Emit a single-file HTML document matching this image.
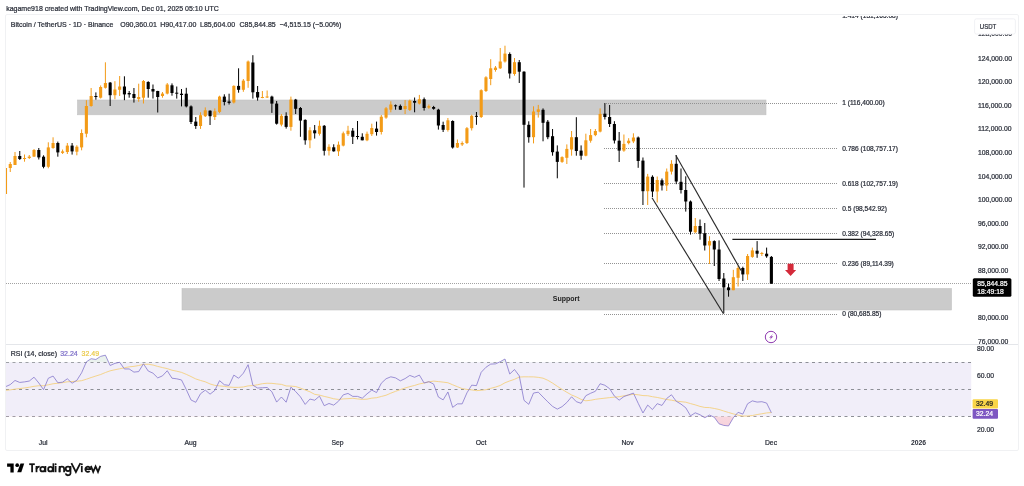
<!DOCTYPE html>
<html><head><meta charset="utf-8"><style>
html,body{margin:0;padding:0;background:#fff;width:1024px;height:486px;overflow:hidden}
svg{display:block;font-family:"Liberation Sans", sans-serif;will-change:transform}
</style></head><body>
<svg width="1024" height="486" viewBox="0 0 1024 486">
<text x="6.2" y="11.3" font-size="7" fill="#2a2e39" stroke="#2a2e39" stroke-width="0.22">kagame918 created with TradingView.com, Dec 01, 2025 05:10 UTC</text>
<rect x="5.5" y="14.5" width="1013" height="436" rx="1.5" fill="#fff" stroke="#f0f1f3" stroke-width="1"/>
<text x="10.8" y="27" font-size="7" fill="#2a2e39" stroke="#2a2e39" stroke-width="0.22">Bitcoin / TetherUS · 1D · Binance</text>
<text x="120.2" y="27" font-size="7" fill="#2a2e39" stroke="#2a2e39" stroke-width="0.22">O90,360.01</text>
<text x="160.2" y="27" font-size="7" fill="#2a2e39" stroke="#2a2e39" stroke-width="0.22">H90,417.00</text>
<text x="200" y="27" font-size="7" fill="#2a2e39" stroke="#2a2e39" stroke-width="0.22">L85,604.00</text>
<text x="239.5" y="27" font-size="7" fill="#2a2e39" stroke="#2a2e39" stroke-width="0.22">C85,844.85</text>
<text x="279.5" y="27" font-size="7" fill="#2a2e39" stroke="#2a2e39" stroke-width="0.22">−4,515.15 (−5.00%)</text>
<defs><clipPath id="cm"><rect x="6" y="16" width="965.5" height="328"/></clipPath><clipPath id="cr"><rect x="6" y="345" width="965.5" height="89"/></clipPath></defs>
<g clip-path="url(#cm)"><rect x="77.5" y="100" width="688.5" height="14.8" fill="#cbcbcb" stroke="#c2c2c2" stroke-width="0.6"/><rect x="182" y="288.5" width="769.5" height="21.5" fill="#cbcbcb" stroke="#c2c2c2" stroke-width="0.6"/><text x="566.2" y="301.1" font-size="7" font-weight="bold" fill="#222" text-anchor="middle">Support</text><text x="842.2" y="18.33" font-size="6.6" fill="#2a2e39" stroke="#2a2e39" stroke-width="0.22">1.414 (131,165.08)</text><line x1="604" y1="103.5" x2="837" y2="103.5" stroke="#929292" stroke-width="1" stroke-dasharray="1 1"/><text x="842.2" y="105.44" font-size="6.6" fill="#2a2e39" stroke="#2a2e39" stroke-width="0.22">1 (116,400.00)</text><line x1="604" y1="148.5" x2="837" y2="148.5" stroke="#929292" stroke-width="1" stroke-dasharray="1 1"/><text x="842.2" y="150.53" font-size="6.6" fill="#2a2e39" stroke="#2a2e39" stroke-width="0.22">0.786 (108,757.17)</text><line x1="604" y1="183.5" x2="837" y2="183.5" stroke="#929292" stroke-width="1" stroke-dasharray="1 1"/><text x="842.2" y="185.93" font-size="6.6" fill="#2a2e39" stroke="#2a2e39" stroke-width="0.22">0.618 (102,757.19)</text><line x1="604" y1="208.5" x2="837" y2="208.5" stroke="#929292" stroke-width="1" stroke-dasharray="1 1"/><text x="842.2" y="210.80" font-size="6.6" fill="#2a2e39" stroke="#2a2e39" stroke-width="0.22">0.5 (98,542.92)</text><line x1="604" y1="233.5" x2="837" y2="233.5" stroke="#929292" stroke-width="1" stroke-dasharray="1 1"/><text x="842.2" y="235.66" font-size="6.6" fill="#2a2e39" stroke="#2a2e39" stroke-width="0.22">0.382 (94,328.65)</text><line x1="604" y1="263.5" x2="837" y2="263.5" stroke="#929292" stroke-width="1" stroke-dasharray="1 1"/><text x="842.2" y="266.43" font-size="6.6" fill="#2a2e39" stroke="#2a2e39" stroke-width="0.22">0.236 (89,114.39)</text><line x1="604" y1="314.5" x2="837" y2="314.5" stroke="#929292" stroke-width="1" stroke-dasharray="1 1"/><text x="842.2" y="316.15" font-size="6.6" fill="#2a2e39" stroke="#2a2e39" stroke-width="0.22">0 (80,685.85)</text><line x1="6" y1="283.5" x2="971" y2="283.5" stroke="#a2a2a2" stroke-width="1" stroke-dasharray="1 1"/><line x1="5.50" y1="166.00" x2="5.50" y2="194.00" stroke="#f39b17" stroke-width="1"/><rect x="3.95" y="168.00" width="3.1" height="26.00" fill="#f39b17"/><line x1="10.26" y1="162.00" x2="10.26" y2="172.00" stroke="#f39b17" stroke-width="1"/><rect x="8.71" y="164.00" width="3.1" height="4.00" fill="#f39b17"/><line x1="15.01" y1="152.00" x2="15.01" y2="165.00" stroke="#f39b17" stroke-width="1"/><rect x="13.46" y="156.00" width="3.1" height="9.00" fill="#f39b17"/><line x1="19.77" y1="151.00" x2="19.77" y2="160.00" stroke="#000000" stroke-width="1"/><rect x="18.22" y="156.00" width="3.1" height="3.00" fill="#000000"/><line x1="24.53" y1="154.50" x2="24.53" y2="161.70" stroke="#f39b17" stroke-width="1"/><rect x="22.98" y="158.00" width="3.1" height="1.00" fill="#f39b17"/><line x1="29.28" y1="155.00" x2="29.28" y2="159.00" stroke="#f39b17" stroke-width="1"/><rect x="27.73" y="156.60" width="3.1" height="1.40" fill="#f39b17"/><line x1="34.04" y1="149.00" x2="34.04" y2="157.00" stroke="#f39b17" stroke-width="1"/><rect x="32.49" y="150.00" width="3.1" height="6.60" fill="#f39b17"/><line x1="38.80" y1="148.00" x2="38.80" y2="159.50" stroke="#000000" stroke-width="1"/><rect x="37.25" y="150.00" width="3.1" height="7.40" fill="#000000"/><line x1="43.56" y1="155.30" x2="43.56" y2="168.30" stroke="#000000" stroke-width="1"/><rect x="42.01" y="156.70" width="3.1" height="10.10" fill="#000000"/><line x1="48.31" y1="142.30" x2="48.31" y2="168.30" stroke="#f39b17" stroke-width="1"/><rect x="46.76" y="147.40" width="3.1" height="19.40" fill="#f39b17"/><line x1="53.07" y1="137.30" x2="53.07" y2="148.80" stroke="#f39b17" stroke-width="1"/><rect x="51.52" y="143.00" width="3.1" height="5.00" fill="#f39b17"/><line x1="57.83" y1="141.60" x2="57.83" y2="156.70" stroke="#000000" stroke-width="1"/><rect x="56.28" y="143.00" width="3.1" height="9.40" fill="#000000"/><line x1="62.58" y1="149.50" x2="62.58" y2="154.00" stroke="#f39b17" stroke-width="1"/><rect x="61.03" y="151.40" width="3.1" height="1.50" fill="#f39b17"/><line x1="67.34" y1="143.00" x2="67.34" y2="154.00" stroke="#f39b17" stroke-width="1"/><rect x="65.79" y="145.60" width="3.1" height="6.40" fill="#f39b17"/><line x1="72.10" y1="143.00" x2="72.10" y2="154.60" stroke="#000000" stroke-width="1"/><rect x="70.55" y="145.60" width="3.1" height="5.80" fill="#000000"/><line x1="76.85" y1="145.20" x2="76.85" y2="155.30" stroke="#f39b17" stroke-width="1"/><rect x="75.30" y="146.70" width="3.1" height="5.00" fill="#f39b17"/><line x1="81.61" y1="129.40" x2="81.61" y2="150.30" stroke="#f39b17" stroke-width="1"/><rect x="80.06" y="133.00" width="3.1" height="14.40" fill="#f39b17"/><line x1="86.37" y1="100.20" x2="86.37" y2="137.30" stroke="#f39b17" stroke-width="1"/><rect x="84.82" y="106.00" width="3.1" height="27.70" fill="#f39b17"/><line x1="91.13" y1="88.00" x2="91.13" y2="106.70" stroke="#f39b17" stroke-width="1"/><rect x="89.58" y="96.00" width="3.1" height="10.00" fill="#f39b17"/><line x1="95.88" y1="92.40" x2="95.88" y2="99.70" stroke="#000000" stroke-width="1"/><rect x="94.33" y="96.00" width="3.1" height="1.00" fill="#000000"/><line x1="100.64" y1="85.40" x2="100.64" y2="98.50" stroke="#f39b17" stroke-width="1"/><rect x="99.09" y="87.00" width="3.1" height="10.70" fill="#f39b17"/><line x1="105.40" y1="62.30" x2="105.40" y2="88.60" stroke="#f39b17" stroke-width="1"/><rect x="103.85" y="83.00" width="3.1" height="4.80" fill="#f39b17"/><line x1="110.15" y1="82.00" x2="110.15" y2="106.00" stroke="#000000" stroke-width="1"/><rect x="108.60" y="82.60" width="3.1" height="12.60" fill="#000000"/><line x1="114.91" y1="81.20" x2="114.91" y2="99.30" stroke="#f39b17" stroke-width="1"/><rect x="113.36" y="89.50" width="3.1" height="5.70" fill="#f39b17"/><line x1="119.67" y1="76.00" x2="119.67" y2="96.00" stroke="#f39b17" stroke-width="1"/><rect x="118.12" y="86.50" width="3.1" height="3.30" fill="#f39b17"/><line x1="124.42" y1="76.30" x2="124.42" y2="100.20" stroke="#000000" stroke-width="1"/><rect x="122.88" y="86.50" width="3.1" height="7.90" fill="#000000"/><line x1="129.18" y1="91.00" x2="129.18" y2="97.70" stroke="#000000" stroke-width="1"/><rect x="127.63" y="93.00" width="3.1" height="1.40" fill="#000000"/><line x1="133.94" y1="88.00" x2="133.94" y2="102.60" stroke="#000000" stroke-width="1"/><rect x="132.39" y="94.00" width="3.1" height="4.00" fill="#000000"/><line x1="138.70" y1="83.70" x2="138.70" y2="101.80" stroke="#f39b17" stroke-width="1"/><rect x="137.15" y="97.00" width="3.1" height="2.00" fill="#f39b17"/><line x1="143.45" y1="80.00" x2="143.45" y2="103.50" stroke="#f39b17" stroke-width="1"/><rect x="141.90" y="81.00" width="3.1" height="16.70" fill="#f39b17"/><line x1="148.21" y1="81.20" x2="148.21" y2="97.70" stroke="#000000" stroke-width="1"/><rect x="146.66" y="82.00" width="3.1" height="7.00" fill="#000000"/><line x1="152.97" y1="84.50" x2="152.97" y2="98.50" stroke="#000000" stroke-width="1"/><rect x="151.42" y="89.00" width="3.1" height="2.50" fill="#000000"/><line x1="157.72" y1="90.80" x2="157.72" y2="112.50" stroke="#000000" stroke-width="1"/><rect x="156.17" y="91.00" width="3.1" height="6.00" fill="#000000"/><line x1="162.48" y1="92.00" x2="162.48" y2="97.70" stroke="#f39b17" stroke-width="1"/><rect x="160.93" y="93.60" width="3.1" height="2.40" fill="#f39b17"/><line x1="167.24" y1="83.00" x2="167.24" y2="94.40" stroke="#f39b17" stroke-width="1"/><rect x="165.69" y="84.50" width="3.1" height="9.10" fill="#f39b17"/><line x1="171.99" y1="83.40" x2="171.99" y2="95.70" stroke="#000000" stroke-width="1"/><rect x="170.44" y="85.30" width="3.1" height="7.70" fill="#000000"/><line x1="176.75" y1="86.50" x2="176.75" y2="98.60" stroke="#000000" stroke-width="1"/><rect x="175.20" y="92.70" width="3.1" height="1.00" fill="#000000"/><line x1="181.51" y1="89.00" x2="181.51" y2="106.40" stroke="#000000" stroke-width="1"/><rect x="179.96" y="93.70" width="3.1" height="1.30" fill="#000000"/><line x1="186.27" y1="87.80" x2="186.27" y2="107.40" stroke="#000000" stroke-width="1"/><rect x="184.72" y="93.70" width="3.1" height="12.70" fill="#000000"/><line x1="191.02" y1="105.40" x2="191.02" y2="124.00" stroke="#000000" stroke-width="1"/><rect x="189.47" y="106.40" width="3.1" height="15.60" fill="#000000"/><line x1="195.78" y1="117.00" x2="195.78" y2="128.90" stroke="#000000" stroke-width="1"/><rect x="194.23" y="121.60" width="3.1" height="4.40" fill="#000000"/><line x1="200.54" y1="112.30" x2="200.54" y2="128.90" stroke="#f39b17" stroke-width="1"/><rect x="198.99" y="115.20" width="3.1" height="10.80" fill="#f39b17"/><line x1="205.29" y1="107.40" x2="205.29" y2="117.00" stroke="#f39b17" stroke-width="1"/><rect x="203.74" y="110.30" width="3.1" height="5.90" fill="#f39b17"/><line x1="210.05" y1="110.30" x2="210.05" y2="125.00" stroke="#000000" stroke-width="1"/><rect x="208.50" y="110.70" width="3.1" height="5.50" fill="#000000"/><line x1="214.81" y1="108.40" x2="214.81" y2="120.00" stroke="#f39b17" stroke-width="1"/><rect x="213.26" y="111.30" width="3.1" height="5.70" fill="#f39b17"/><line x1="219.56" y1="95.70" x2="219.56" y2="113.20" stroke="#f39b17" stroke-width="1"/><rect x="218.01" y="96.60" width="3.1" height="15.30" fill="#f39b17"/><line x1="224.32" y1="94.30" x2="224.32" y2="105.40" stroke="#000000" stroke-width="1"/><rect x="222.77" y="96.60" width="3.1" height="5.40" fill="#000000"/><line x1="229.08" y1="93.70" x2="229.08" y2="104.50" stroke="#000000" stroke-width="1"/><rect x="227.53" y="101.50" width="3.1" height="1.40" fill="#000000"/><line x1="233.84" y1="85.30" x2="233.84" y2="103.50" stroke="#f39b17" stroke-width="1"/><rect x="232.29" y="85.90" width="3.1" height="16.60" fill="#f39b17"/><line x1="238.59" y1="68.30" x2="238.59" y2="92.70" stroke="#000000" stroke-width="1"/><rect x="237.04" y="85.90" width="3.1" height="3.90" fill="#000000"/><line x1="243.35" y1="79.00" x2="243.35" y2="91.80" stroke="#f39b17" stroke-width="1"/><rect x="241.80" y="80.60" width="3.1" height="9.20" fill="#f39b17"/><line x1="248.11" y1="60.50" x2="248.11" y2="87.80" stroke="#f39b17" stroke-width="1"/><rect x="246.56" y="61.50" width="3.1" height="19.50" fill="#f39b17"/><line x1="252.86" y1="55.20" x2="252.86" y2="98.60" stroke="#000000" stroke-width="1"/><rect x="251.31" y="62.50" width="3.1" height="29.80" fill="#000000"/><line x1="257.62" y1="86.00" x2="257.62" y2="100.60" stroke="#000000" stroke-width="1"/><rect x="256.07" y="92.00" width="3.1" height="5.50" fill="#000000"/><line x1="262.38" y1="91.00" x2="262.38" y2="98.20" stroke="#f39b17" stroke-width="1"/><rect x="260.83" y="97.00" width="3.1" height="1.00" fill="#f39b17"/><line x1="267.13" y1="90.50" x2="267.13" y2="98.00" stroke="#f39b17" stroke-width="1"/><rect x="265.58" y="96.50" width="3.1" height="1.00" fill="#f39b17"/><line x1="271.89" y1="95.70" x2="271.89" y2="112.90" stroke="#000000" stroke-width="1"/><rect x="270.34" y="96.60" width="3.1" height="7.00" fill="#000000"/><line x1="276.65" y1="101.00" x2="276.65" y2="124.60" stroke="#000000" stroke-width="1"/><rect x="275.10" y="103.60" width="3.1" height="20.10" fill="#000000"/><line x1="281.41" y1="114.00" x2="281.41" y2="126.30" stroke="#f39b17" stroke-width="1"/><rect x="279.86" y="115.80" width="3.1" height="8.80" fill="#f39b17"/><line x1="286.16" y1="112.30" x2="286.16" y2="128.60" stroke="#000000" stroke-width="1"/><rect x="284.61" y="115.80" width="3.1" height="11.10" fill="#000000"/><line x1="290.92" y1="96.60" x2="290.92" y2="130.70" stroke="#f39b17" stroke-width="1"/><rect x="289.37" y="99.60" width="3.1" height="27.30" fill="#f39b17"/><line x1="295.68" y1="98.90" x2="295.68" y2="114.00" stroke="#000000" stroke-width="1"/><rect x="294.13" y="99.60" width="3.1" height="9.20" fill="#000000"/><line x1="300.43" y1="107.00" x2="300.43" y2="136.80" stroke="#000000" stroke-width="1"/><rect x="298.88" y="108.00" width="3.1" height="12.60" fill="#000000"/><line x1="305.19" y1="119.30" x2="305.19" y2="144.70" stroke="#000000" stroke-width="1"/><rect x="303.64" y="119.90" width="3.1" height="20.40" fill="#000000"/><line x1="309.95" y1="127.20" x2="309.95" y2="148.20" stroke="#f39b17" stroke-width="1"/><rect x="308.40" y="130.30" width="3.1" height="10.00" fill="#f39b17"/><line x1="314.70" y1="125.00" x2="314.70" y2="138.60" stroke="#000000" stroke-width="1"/><rect x="313.15" y="130.30" width="3.1" height="3.00" fill="#000000"/><line x1="319.46" y1="120.60" x2="319.46" y2="135.60" stroke="#f39b17" stroke-width="1"/><rect x="317.91" y="125.80" width="3.1" height="8.00" fill="#f39b17"/><line x1="324.22" y1="125.00" x2="324.22" y2="155.50" stroke="#000000" stroke-width="1"/><rect x="322.67" y="125.80" width="3.1" height="25.00" fill="#000000"/><line x1="328.98" y1="144.30" x2="328.98" y2="155.50" stroke="#f39b17" stroke-width="1"/><rect x="327.43" y="146.80" width="3.1" height="4.00" fill="#f39b17"/><line x1="333.73" y1="144.30" x2="333.73" y2="151.70" stroke="#000000" stroke-width="1"/><rect x="332.18" y="147.30" width="3.1" height="4.00" fill="#000000"/><line x1="338.49" y1="141.50" x2="338.49" y2="156.00" stroke="#f39b17" stroke-width="1"/><rect x="336.94" y="144.70" width="3.1" height="6.60" fill="#f39b17"/><line x1="343.25" y1="131.60" x2="343.25" y2="146.40" stroke="#f39b17" stroke-width="1"/><rect x="341.70" y="133.30" width="3.1" height="12.30" fill="#f39b17"/><line x1="348.00" y1="125.80" x2="348.00" y2="136.00" stroke="#f39b17" stroke-width="1"/><rect x="346.45" y="130.70" width="3.1" height="3.50" fill="#f39b17"/><line x1="352.76" y1="128.00" x2="352.76" y2="144.00" stroke="#000000" stroke-width="1"/><rect x="351.21" y="130.70" width="3.1" height="6.10" fill="#000000"/><line x1="357.52" y1="121.00" x2="357.52" y2="139.40" stroke="#000000" stroke-width="1"/><rect x="355.97" y="136.00" width="3.1" height="1.00" fill="#000000"/><line x1="362.27" y1="133.30" x2="362.27" y2="140.30" stroke="#000000" stroke-width="1"/><rect x="360.72" y="136.80" width="3.1" height="3.50" fill="#000000"/><line x1="367.03" y1="131.60" x2="367.03" y2="141.20" stroke="#f39b17" stroke-width="1"/><rect x="365.48" y="133.80" width="3.1" height="6.50" fill="#f39b17"/><line x1="371.79" y1="123.70" x2="371.79" y2="136.00" stroke="#f39b17" stroke-width="1"/><rect x="370.24" y="128.00" width="3.1" height="6.20" fill="#f39b17"/><line x1="376.55" y1="121.60" x2="376.55" y2="135.60" stroke="#000000" stroke-width="1"/><rect x="375.00" y="128.60" width="3.1" height="3.40" fill="#000000"/><line x1="381.30" y1="115.00" x2="381.30" y2="134.50" stroke="#f39b17" stroke-width="1"/><rect x="379.75" y="116.70" width="3.1" height="15.30" fill="#f39b17"/><line x1="386.06" y1="107.00" x2="386.06" y2="118.80" stroke="#f39b17" stroke-width="1"/><rect x="384.51" y="108.30" width="3.1" height="9.30" fill="#f39b17"/><line x1="390.82" y1="101.30" x2="390.82" y2="112.30" stroke="#f39b17" stroke-width="1"/><rect x="389.27" y="104.50" width="3.1" height="5.20" fill="#f39b17"/><line x1="395.57" y1="104.50" x2="395.57" y2="109.70" stroke="#000000" stroke-width="1"/><rect x="394.02" y="105.30" width="3.1" height="1.00" fill="#000000"/><line x1="400.33" y1="104.50" x2="400.33" y2="110.00" stroke="#000000" stroke-width="1"/><rect x="398.78" y="105.90" width="3.1" height="3.80" fill="#000000"/><line x1="405.09" y1="100.00" x2="405.09" y2="114.00" stroke="#f39b17" stroke-width="1"/><rect x="403.54" y="106.00" width="3.1" height="3.00" fill="#f39b17"/><line x1="409.84" y1="99.60" x2="409.84" y2="111.00" stroke="#f39b17" stroke-width="1"/><rect x="408.29" y="100.60" width="3.1" height="9.40" fill="#f39b17"/><line x1="414.60" y1="97.50" x2="414.60" y2="112.30" stroke="#000000" stroke-width="1"/><rect x="413.05" y="101.00" width="3.1" height="1.70" fill="#000000"/><line x1="419.36" y1="94.90" x2="419.36" y2="104.50" stroke="#f39b17" stroke-width="1"/><rect x="417.81" y="99.20" width="3.1" height="4.40" fill="#f39b17"/><line x1="424.12" y1="97.50" x2="424.12" y2="110.60" stroke="#000000" stroke-width="1"/><rect x="422.57" y="99.20" width="3.1" height="8.80" fill="#000000"/><line x1="428.87" y1="104.50" x2="428.87" y2="108.80" stroke="#f39b17" stroke-width="1"/><rect x="427.32" y="106.20" width="3.1" height="1.40" fill="#f39b17"/><line x1="433.63" y1="105.90" x2="433.63" y2="109.70" stroke="#000000" stroke-width="1"/><rect x="432.08" y="107.00" width="3.1" height="1.80" fill="#000000"/><line x1="438.39" y1="108.80" x2="438.39" y2="129.60" stroke="#000000" stroke-width="1"/><rect x="436.84" y="109.70" width="3.1" height="15.80" fill="#000000"/><line x1="443.14" y1="121.70" x2="443.14" y2="132.00" stroke="#000000" stroke-width="1"/><rect x="441.59" y="125.00" width="3.1" height="4.80" fill="#000000"/><line x1="447.90" y1="118.00" x2="447.90" y2="131.60" stroke="#f39b17" stroke-width="1"/><rect x="446.35" y="120.30" width="3.1" height="9.70" fill="#f39b17"/><line x1="452.66" y1="120.30" x2="452.66" y2="148.60" stroke="#000000" stroke-width="1"/><rect x="451.11" y="121.00" width="3.1" height="26.50" fill="#000000"/><line x1="457.41" y1="139.50" x2="457.41" y2="148.00" stroke="#f39b17" stroke-width="1"/><rect x="455.86" y="143.00" width="3.1" height="4.50" fill="#f39b17"/><line x1="462.17" y1="141.40" x2="462.17" y2="146.00" stroke="#f39b17" stroke-width="1"/><rect x="460.62" y="143.00" width="3.1" height="1.50" fill="#f39b17"/><line x1="466.93" y1="127.00" x2="466.93" y2="144.00" stroke="#f39b17" stroke-width="1"/><rect x="465.38" y="128.20" width="3.1" height="14.80" fill="#f39b17"/><line x1="471.69" y1="114.70" x2="471.69" y2="130.50" stroke="#f39b17" stroke-width="1"/><rect x="470.14" y="115.80" width="3.1" height="12.40" fill="#f39b17"/><line x1="476.44" y1="112.00" x2="476.44" y2="124.80" stroke="#000000" stroke-width="1"/><rect x="474.89" y="115.80" width="3.1" height="1.00" fill="#000000"/><line x1="481.20" y1="89.30" x2="481.20" y2="118.00" stroke="#f39b17" stroke-width="1"/><rect x="479.65" y="90.20" width="3.1" height="26.80" fill="#f39b17"/><line x1="485.96" y1="76.20" x2="485.96" y2="92.00" stroke="#f39b17" stroke-width="1"/><rect x="484.41" y="77.30" width="3.1" height="13.70" fill="#f39b17"/><line x1="490.71" y1="59.20" x2="490.71" y2="85.20" stroke="#f39b17" stroke-width="1"/><rect x="489.16" y="68.30" width="3.1" height="10.70" fill="#f39b17"/><line x1="495.47" y1="66.00" x2="495.47" y2="71.70" stroke="#f39b17" stroke-width="1"/><rect x="493.92" y="67.60" width="3.1" height="2.40" fill="#f39b17"/><line x1="500.23" y1="48.00" x2="500.23" y2="69.00" stroke="#f39b17" stroke-width="1"/><rect x="498.68" y="61.50" width="3.1" height="6.80" fill="#f39b17"/><line x1="504.98" y1="45.70" x2="504.98" y2="62.60" stroke="#f39b17" stroke-width="1"/><rect x="503.43" y="53.60" width="3.1" height="7.90" fill="#f39b17"/><line x1="509.74" y1="52.40" x2="509.74" y2="78.50" stroke="#000000" stroke-width="1"/><rect x="508.19" y="54.00" width="3.1" height="19.50" fill="#000000"/><line x1="514.50" y1="58.00" x2="514.50" y2="75.70" stroke="#f39b17" stroke-width="1"/><rect x="512.95" y="62.20" width="3.1" height="11.80" fill="#f39b17"/><line x1="519.26" y1="60.00" x2="519.26" y2="83.00" stroke="#000000" stroke-width="1"/><rect x="517.71" y="62.20" width="3.1" height="9.50" fill="#000000"/><line x1="524.01" y1="71.20" x2="524.01" y2="187.60" stroke="#000000" stroke-width="1"/><rect x="522.46" y="71.70" width="3.1" height="53.10" fill="#000000"/><line x1="528.77" y1="121.30" x2="528.77" y2="142.70" stroke="#000000" stroke-width="1"/><rect x="527.22" y="124.80" width="3.1" height="12.40" fill="#000000"/><line x1="533.53" y1="106.30" x2="533.53" y2="143.40" stroke="#f39b17" stroke-width="1"/><rect x="531.98" y="111.50" width="3.1" height="25.70" fill="#f39b17"/><line x1="538.28" y1="104.90" x2="538.28" y2="117.60" stroke="#f39b17" stroke-width="1"/><rect x="536.73" y="109.40" width="3.1" height="2.50" fill="#f39b17"/><line x1="543.04" y1="108.40" x2="543.04" y2="141.30" stroke="#000000" stroke-width="1"/><rect x="541.49" y="109.80" width="3.1" height="13.00" fill="#000000"/><line x1="547.80" y1="120.00" x2="547.80" y2="139.20" stroke="#000000" stroke-width="1"/><rect x="546.25" y="121.70" width="3.1" height="15.50" fill="#000000"/><line x1="552.55" y1="129.00" x2="552.55" y2="155.70" stroke="#000000" stroke-width="1"/><rect x="551.00" y="136.20" width="3.1" height="16.00" fill="#000000"/><line x1="557.31" y1="145.40" x2="557.31" y2="178.30" stroke="#000000" stroke-width="1"/><rect x="555.76" y="151.60" width="3.1" height="10.30" fill="#000000"/><line x1="562.07" y1="156.30" x2="562.07" y2="162.90" stroke="#f39b17" stroke-width="1"/><rect x="560.52" y="157.10" width="3.1" height="4.80" fill="#f39b17"/><line x1="566.83" y1="144.40" x2="566.83" y2="164.00" stroke="#f39b17" stroke-width="1"/><rect x="565.28" y="148.90" width="3.1" height="8.90" fill="#f39b17"/><line x1="571.58" y1="131.00" x2="571.58" y2="155.70" stroke="#f39b17" stroke-width="1"/><rect x="570.03" y="137.20" width="3.1" height="12.30" fill="#f39b17"/><line x1="576.34" y1="117.20" x2="576.34" y2="155.70" stroke="#000000" stroke-width="1"/><rect x="574.79" y="137.20" width="3.1" height="13.80" fill="#000000"/><line x1="581.10" y1="145.40" x2="581.10" y2="159.80" stroke="#000000" stroke-width="1"/><rect x="579.55" y="150.60" width="3.1" height="5.10" fill="#000000"/><line x1="585.85" y1="133.70" x2="585.85" y2="156.30" stroke="#f39b17" stroke-width="1"/><rect x="584.30" y="140.30" width="3.1" height="15.40" fill="#f39b17"/><line x1="590.61" y1="129.00" x2="590.61" y2="142.70" stroke="#f39b17" stroke-width="1"/><rect x="589.06" y="135.10" width="3.1" height="5.60" fill="#f39b17"/><line x1="595.37" y1="129.00" x2="595.37" y2="136.20" stroke="#f39b17" stroke-width="1"/><rect x="593.82" y="131.00" width="3.1" height="4.10" fill="#f39b17"/><line x1="600.12" y1="108.40" x2="600.12" y2="132.40" stroke="#f39b17" stroke-width="1"/><rect x="598.58" y="113.90" width="3.1" height="17.70" fill="#f39b17"/><line x1="604.88" y1="103.20" x2="604.88" y2="119.50" stroke="#000000" stroke-width="1"/><rect x="603.33" y="113.70" width="3.1" height="3.30" fill="#000000"/><line x1="609.64" y1="105.00" x2="609.64" y2="127.00" stroke="#000000" stroke-width="1"/><rect x="608.09" y="117.00" width="3.1" height="7.00" fill="#000000"/><line x1="614.40" y1="121.20" x2="614.40" y2="143.50" stroke="#000000" stroke-width="1"/><rect x="612.85" y="124.00" width="3.1" height="16.50" fill="#000000"/><line x1="619.15" y1="132.00" x2="619.15" y2="162.00" stroke="#000000" stroke-width="1"/><rect x="617.60" y="140.70" width="3.1" height="9.90" fill="#000000"/><line x1="623.91" y1="134.50" x2="623.91" y2="151.80" stroke="#f39b17" stroke-width="1"/><rect x="622.36" y="143.90" width="3.1" height="6.70" fill="#f39b17"/><line x1="628.67" y1="138.20" x2="628.67" y2="144.40" stroke="#f39b17" stroke-width="1"/><rect x="627.12" y="140.70" width="3.1" height="2.40" fill="#f39b17"/><line x1="633.42" y1="133.30" x2="633.42" y2="143.10" stroke="#f39b17" stroke-width="1"/><rect x="631.87" y="137.50" width="3.1" height="3.90" fill="#f39b17"/><line x1="638.18" y1="136.50" x2="638.18" y2="167.80" stroke="#000000" stroke-width="1"/><rect x="636.63" y="137.50" width="3.1" height="23.50" fill="#000000"/><line x1="642.94" y1="157.50" x2="642.94" y2="205.00" stroke="#000000" stroke-width="1"/><rect x="641.39" y="160.60" width="3.1" height="30.60" fill="#000000"/><line x1="647.69" y1="173.90" x2="647.69" y2="205.00" stroke="#f39b17" stroke-width="1"/><rect x="646.14" y="176.60" width="3.1" height="14.60" fill="#f39b17"/><line x1="652.45" y1="175.30" x2="652.45" y2="197.00" stroke="#000000" stroke-width="1"/><rect x="650.90" y="176.80" width="3.1" height="14.70" fill="#000000"/><line x1="657.21" y1="176.50" x2="657.21" y2="202.50" stroke="#f39b17" stroke-width="1"/><rect x="655.66" y="180.00" width="3.1" height="11.50" fill="#f39b17"/><line x1="661.97" y1="178.50" x2="661.97" y2="190.50" stroke="#000000" stroke-width="1"/><rect x="660.42" y="180.30" width="3.1" height="5.20" fill="#000000"/><line x1="666.72" y1="168.50" x2="666.72" y2="191.00" stroke="#f39b17" stroke-width="1"/><rect x="665.17" y="171.60" width="3.1" height="13.90" fill="#f39b17"/><line x1="671.48" y1="160.20" x2="671.48" y2="174.50" stroke="#f39b17" stroke-width="1"/><rect x="669.93" y="163.80" width="3.1" height="7.80" fill="#f39b17"/><line x1="676.24" y1="155.20" x2="676.24" y2="184.20" stroke="#000000" stroke-width="1"/><rect x="674.69" y="163.80" width="3.1" height="17.70" fill="#000000"/><line x1="680.99" y1="168.50" x2="680.99" y2="193.50" stroke="#000000" stroke-width="1"/><rect x="679.44" y="181.80" width="3.1" height="8.20" fill="#000000"/><line x1="685.75" y1="176.30" x2="685.75" y2="211.60" stroke="#000000" stroke-width="1"/><rect x="684.20" y="190.00" width="3.1" height="11.50" fill="#000000"/><line x1="690.51" y1="200.50" x2="690.51" y2="234.60" stroke="#000000" stroke-width="1"/><rect x="688.96" y="201.50" width="3.1" height="30.20" fill="#000000"/><line x1="695.26" y1="218.00" x2="695.26" y2="233.20" stroke="#f39b17" stroke-width="1"/><rect x="693.72" y="226.00" width="3.1" height="6.20" fill="#f39b17"/><line x1="700.02" y1="219.50" x2="700.02" y2="239.70" stroke="#000000" stroke-width="1"/><rect x="698.47" y="226.00" width="3.1" height="7.60" fill="#000000"/><line x1="704.78" y1="223.00" x2="704.78" y2="250.50" stroke="#000000" stroke-width="1"/><rect x="703.23" y="233.20" width="3.1" height="12.30" fill="#000000"/><line x1="709.54" y1="236.20" x2="709.54" y2="264.00" stroke="#f39b17" stroke-width="1"/><rect x="707.99" y="241.10" width="3.1" height="4.40" fill="#f39b17"/><line x1="714.29" y1="240.30" x2="714.29" y2="266.00" stroke="#000000" stroke-width="1"/><rect x="712.74" y="241.10" width="3.1" height="8.40" fill="#000000"/><line x1="719.05" y1="240.40" x2="719.05" y2="281.00" stroke="#000000" stroke-width="1"/><rect x="717.50" y="249.50" width="3.1" height="29.50" fill="#000000"/><line x1="723.81" y1="273.00" x2="723.81" y2="313.30" stroke="#000000" stroke-width="1"/><rect x="722.26" y="278.50" width="3.1" height="8.90" fill="#000000"/><line x1="728.56" y1="283.70" x2="728.56" y2="296.70" stroke="#000000" stroke-width="1"/><rect x="727.01" y="287.40" width="3.1" height="2.80" fill="#000000"/><line x1="733.32" y1="269.80" x2="733.32" y2="290.20" stroke="#f39b17" stroke-width="1"/><rect x="731.77" y="277.20" width="3.1" height="13.00" fill="#f39b17"/><line x1="738.08" y1="266.00" x2="738.08" y2="286.50" stroke="#f39b17" stroke-width="1"/><rect x="736.53" y="268.00" width="3.1" height="9.80" fill="#f39b17"/><line x1="742.83" y1="266.70" x2="742.83" y2="281.00" stroke="#000000" stroke-width="1"/><rect x="741.28" y="268.00" width="3.1" height="6.40" fill="#000000"/><line x1="747.59" y1="254.00" x2="747.59" y2="280.00" stroke="#f39b17" stroke-width="1"/><rect x="746.04" y="256.00" width="3.1" height="18.40" fill="#f39b17"/><line x1="752.35" y1="247.60" x2="752.35" y2="257.80" stroke="#f39b17" stroke-width="1"/><rect x="750.80" y="250.40" width="3.1" height="6.50" fill="#f39b17"/><line x1="757.11" y1="241.10" x2="757.11" y2="257.80" stroke="#000000" stroke-width="1"/><rect x="755.56" y="250.70" width="3.1" height="3.00" fill="#000000"/><line x1="761.86" y1="251.90" x2="761.86" y2="256.00" stroke="#f39b17" stroke-width="1"/><rect x="760.31" y="253.00" width="3.1" height="1.00" fill="#f39b17"/><line x1="766.62" y1="247.60" x2="766.62" y2="257.80" stroke="#000000" stroke-width="1"/><rect x="765.07" y="253.70" width="3.1" height="2.60" fill="#000000"/><line x1="771.38" y1="256.00" x2="771.38" y2="283.70" stroke="#000000" stroke-width="1"/><rect x="769.83" y="256.90" width="3.1" height="26.80" fill="#000000"/><line x1="675.8" y1="155.2" x2="741" y2="270.5" stroke="#2a2a2a" stroke-width="1.15"/><line x1="652" y1="197.7" x2="723.5" y2="313.8" stroke="#2a2a2a" stroke-width="1.15"/><line x1="732.4" y1="239.4" x2="876" y2="239.4" stroke="#1a1a1a" stroke-width="1.15"/><path d="M787.6 263.7 H793.6 V270 H796.2 L790.6 276.1 L785 270 H787.6 Z" fill="#d42a3a"/><circle cx="771" cy="337" r="5.7" fill="#fff" stroke="#8f3bb0" stroke-width="1"/><path d="M773.1 333.8 L769.1 337.7 L771.2 337.5 L769.5 340.2 L773.3 336.3 L771.2 336.5 Z" fill="#8f3bb0"/></g>
<line x1="6" y1="344.5" x2="1018" y2="344.5" stroke="#e4e6ea" stroke-width="1"/>
<text x="978" y="36.20" font-size="6.8" fill="#2a2e39" stroke="#2a2e39" stroke-width="0.22">128,000.00</text>
<text x="978" y="60.60" font-size="6.8" fill="#2a2e39" stroke="#2a2e39" stroke-width="0.22">124,000.00</text>
<text x="978" y="84.20" font-size="6.8" fill="#2a2e39" stroke="#2a2e39" stroke-width="0.22">120,000.00</text>
<text x="978" y="107.80" font-size="6.8" fill="#2a2e39" stroke="#2a2e39" stroke-width="0.22">116,000.00</text>
<text x="978" y="131.40" font-size="6.8" fill="#2a2e39" stroke="#2a2e39" stroke-width="0.22">112,000.00</text>
<text x="978" y="155.00" font-size="6.8" fill="#2a2e39" stroke="#2a2e39" stroke-width="0.22">108,000.00</text>
<text x="978" y="178.60" font-size="6.8" fill="#2a2e39" stroke="#2a2e39" stroke-width="0.22">104,000.00</text>
<text x="978" y="202.20" font-size="6.8" fill="#2a2e39" stroke="#2a2e39" stroke-width="0.22">100,000.00</text>
<text x="978" y="225.80" font-size="6.8" fill="#2a2e39" stroke="#2a2e39" stroke-width="0.22">96,000.00</text>
<text x="978" y="249.40" font-size="6.8" fill="#2a2e39" stroke="#2a2e39" stroke-width="0.22">92,000.00</text>
<text x="978" y="273.00" font-size="6.8" fill="#2a2e39" stroke="#2a2e39" stroke-width="0.22">88,000.00</text>
<text x="978" y="320.20" font-size="6.8" fill="#2a2e39" stroke="#2a2e39" stroke-width="0.22">80,000.00</text>
<text x="978" y="343.80" font-size="6.8" fill="#2a2e39" stroke="#2a2e39" stroke-width="0.22">76,000.00</text>
<rect x="974.6" y="18.8" width="40.8" height="15.3" rx="2" fill="#fff" stroke="#eceef1" stroke-width="0.8"/>
<text x="979.8" y="28.8" font-size="6.8" fill="#2a2e39" textLength="16.5" lengthAdjust="spacingAndGlyphs" stroke="#2a2e39" stroke-width="0.22">USDT</text>
<rect x="972.8" y="278.2" width="38.6" height="18.5" rx="1.5" fill="#000"/>
<text x="977.3" y="285.5" font-size="6.8" fill="#fff" stroke="#fff" stroke-width="0.22">85,844.85</text>
<text x="977.3" y="293.6" font-size="6.8" fill="#fff" stroke="#fff" stroke-width="0.22">18:49:18</text>
<g clip-path="url(#cr)"><rect x="6" y="362.2" width="965.5" height="54.1" fill="#f1eef9"/><line x1="6" y1="362.5" x2="971.5" y2="362.5" stroke="#8d8f96" stroke-width="1" stroke-dasharray="3 3.5"/><line x1="6" y1="389.5" x2="971.5" y2="389.5" stroke="#8d8f96" stroke-width="1" stroke-dasharray="3 3.5"/><line x1="6" y1="416.5" x2="971.5" y2="416.5" stroke="#8d8f96" stroke-width="1" stroke-dasharray="3 3.5"/><defs><clipPath id="os"><rect x="6" y="416.3" width="966" height="20"/></clipPath><clipPath id="ob"><rect x="6" y="345" width="966" height="17.2"/></clipPath><linearGradient id="pg" x1="0" y1="0" x2="0" y2="1"><stop offset="0" stop-color="#fdf0f2"/><stop offset="1" stop-color="#f7d3dc"/></linearGradient><linearGradient id="gg" x1="0" y1="1" x2="0" y2="0"><stop offset="0" stop-color="#f3f6f4"/><stop offset="1" stop-color="#e9f1ed"/></linearGradient></defs><polygon clip-path="url(#os)" points="5.50,386.73 10.26,384.60 15.01,380.46 19.77,382.44 24.53,381.88 29.28,381.05 34.04,377.20 38.80,382.98 43.56,389.66 48.31,378.27 53.07,376.05 57.83,382.74 62.58,382.16 67.34,378.81 72.10,383.20 76.85,380.31 81.61,372.79 86.37,361.85 91.13,358.69 95.88,359.51 100.64,356.37 105.40,355.18 110.15,365.51 114.91,363.38 119.67,362.26 124.42,368.95 129.18,368.95 133.94,372.11 138.70,371.58 143.45,363.82 148.21,371.00 152.97,373.17 157.72,377.90 162.48,375.86 167.24,370.72 171.99,378.21 176.75,378.81 181.51,379.98 186.27,389.55 191.02,399.98 195.78,402.31 200.54,393.70 205.29,390.13 210.05,394.15 214.81,390.44 219.56,380.67 224.32,384.72 229.08,385.40 233.84,375.12 238.59,378.25 243.35,373.23 248.11,364.69 252.86,385.24 257.62,388.03 262.38,387.77 267.13,387.48 271.89,391.77 276.65,402.08 281.41,397.01 286.16,402.21 290.92,387.13 295.68,391.56 300.43,396.82 305.19,404.42 309.95,399.05 314.70,400.24 319.46,396.12 324.22,405.71 328.98,403.48 333.73,405.14 338.49,401.22 343.25,394.84 348.00,393.43 352.76,396.38 357.52,396.38 362.27,398.19 367.03,393.85 371.79,390.12 376.55,392.58 381.30,383.22 386.06,378.76 390.82,376.82 395.57,377.88 400.33,380.84 405.09,378.60 409.84,375.41 414.60,377.28 419.36,375.07 424.12,382.98 428.87,381.70 433.63,384.06 438.39,397.06 443.14,399.87 447.90,391.97 452.66,407.35 457.41,403.87 462.17,403.87 466.93,392.85 471.69,385.17 476.44,385.64 481.20,372.29 485.96,367.27 490.71,364.10 495.47,363.86 500.23,361.69 504.98,359.01 509.74,374.03 514.50,369.53 519.26,375.83 524.01,400.33 528.77,404.32 533.53,393.04 538.28,392.20 543.04,397.06 547.80,401.85 552.55,406.38 557.31,409.11 562.07,406.65 566.83,402.46 571.58,396.78 576.34,401.70 581.10,403.30 585.85,395.68 590.61,393.25 595.37,391.30 600.12,383.74 604.88,385.26 609.64,388.69 614.40,396.09 619.15,400.15 623.91,396.57 628.67,394.85 633.42,393.09 638.18,403.27 642.94,412.96 647.69,405.09 652.45,409.56 657.21,403.66 661.97,405.43 666.72,398.45 671.48,394.77 676.24,401.27 680.99,404.12 685.75,407.79 690.51,415.85 695.26,412.80 700.02,414.75 704.78,417.68 709.54,415.08 714.29,417.27 719.05,423.82 723.81,425.41 728.56,425.95 733.32,417.74 738.08,412.30 742.83,414.11 747.59,403.77 752.35,400.87 757.11,402.09 761.86,401.69 766.62,403.05 771.38,412.76 771.38,416.3 5.50,416.3" fill="url(#pg)"/><polygon clip-path="url(#ob)" points="5.50,386.73 10.26,384.60 15.01,380.46 19.77,382.44 24.53,381.88 29.28,381.05 34.04,377.20 38.80,382.98 43.56,389.66 48.31,378.27 53.07,376.05 57.83,382.74 62.58,382.16 67.34,378.81 72.10,383.20 76.85,380.31 81.61,372.79 86.37,361.85 91.13,358.69 95.88,359.51 100.64,356.37 105.40,355.18 110.15,365.51 114.91,363.38 119.67,362.26 124.42,368.95 129.18,368.95 133.94,372.11 138.70,371.58 143.45,363.82 148.21,371.00 152.97,373.17 157.72,377.90 162.48,375.86 167.24,370.72 171.99,378.21 176.75,378.81 181.51,379.98 186.27,389.55 191.02,399.98 195.78,402.31 200.54,393.70 205.29,390.13 210.05,394.15 214.81,390.44 219.56,380.67 224.32,384.72 229.08,385.40 233.84,375.12 238.59,378.25 243.35,373.23 248.11,364.69 252.86,385.24 257.62,388.03 262.38,387.77 267.13,387.48 271.89,391.77 276.65,402.08 281.41,397.01 286.16,402.21 290.92,387.13 295.68,391.56 300.43,396.82 305.19,404.42 309.95,399.05 314.70,400.24 319.46,396.12 324.22,405.71 328.98,403.48 333.73,405.14 338.49,401.22 343.25,394.84 348.00,393.43 352.76,396.38 357.52,396.38 362.27,398.19 367.03,393.85 371.79,390.12 376.55,392.58 381.30,383.22 386.06,378.76 390.82,376.82 395.57,377.88 400.33,380.84 405.09,378.60 409.84,375.41 414.60,377.28 419.36,375.07 424.12,382.98 428.87,381.70 433.63,384.06 438.39,397.06 443.14,399.87 447.90,391.97 452.66,407.35 457.41,403.87 462.17,403.87 466.93,392.85 471.69,385.17 476.44,385.64 481.20,372.29 485.96,367.27 490.71,364.10 495.47,363.86 500.23,361.69 504.98,359.01 509.74,374.03 514.50,369.53 519.26,375.83 524.01,400.33 528.77,404.32 533.53,393.04 538.28,392.20 543.04,397.06 547.80,401.85 552.55,406.38 557.31,409.11 562.07,406.65 566.83,402.46 571.58,396.78 576.34,401.70 581.10,403.30 585.85,395.68 590.61,393.25 595.37,391.30 600.12,383.74 604.88,385.26 609.64,388.69 614.40,396.09 619.15,400.15 623.91,396.57 628.67,394.85 633.42,393.09 638.18,403.27 642.94,412.96 647.69,405.09 652.45,409.56 657.21,403.66 661.97,405.43 666.72,398.45 671.48,394.77 676.24,401.27 680.99,404.12 685.75,407.79 690.51,415.85 695.26,412.80 700.02,414.75 704.78,417.68 709.54,415.08 714.29,417.27 719.05,423.82 723.81,425.41 728.56,425.95 733.32,417.74 738.08,412.30 742.83,414.11 747.59,403.77 752.35,400.87 757.11,402.09 761.86,401.69 766.62,403.05 771.38,412.76 771.38,362.2 5.50,362.2" fill="url(#gg)"/><polyline points="5.50,390.28 10.26,389.85 15.01,389.13 19.77,388.55 24.53,387.93 29.28,387.25 34.04,386.30 38.80,385.76 43.56,385.70 48.31,384.82 53.07,383.78 57.83,383.23 62.58,382.63 67.34,381.79 72.10,381.54 76.85,381.23 81.61,380.68 86.37,379.21 91.13,377.55 95.88,376.01 100.64,374.53 105.40,372.54 110.15,370.82 114.91,369.75 119.67,368.77 124.42,367.78 129.18,366.84 133.94,366.36 138.70,365.53 143.45,364.35 148.21,364.23 152.97,365.03 157.72,366.41 162.48,367.57 167.24,368.60 171.99,370.24 176.75,371.19 181.51,372.38 186.27,374.33 191.02,376.55 195.78,378.93 200.54,380.47 205.29,381.80 210.05,383.96 214.81,385.35 219.56,385.89 224.32,386.37 229.08,387.06 233.84,387.37 238.59,387.37 243.35,386.97 248.11,385.88 252.86,385.57 257.62,384.72 262.38,383.68 267.13,383.24 271.89,383.35 276.65,383.92 281.41,384.39 286.16,385.93 290.92,386.10 295.68,386.54 300.43,388.09 305.19,389.96 309.95,391.80 314.70,394.34 319.46,395.12 324.22,396.38 328.98,397.50 333.73,398.77 338.49,399.44 343.25,398.92 348.00,398.67 352.76,398.25 357.52,398.91 362.27,399.39 367.03,399.17 371.79,398.15 376.55,397.69 381.30,396.48 386.06,395.24 390.82,393.17 395.57,391.34 400.33,389.61 405.09,387.99 409.84,386.61 414.60,385.45 419.36,383.93 424.12,382.97 428.87,381.80 433.63,381.10 438.39,381.59 443.14,382.11 447.90,382.74 452.66,384.78 457.41,386.71 462.17,388.57 466.93,389.43 471.69,389.89 476.44,390.63 481.20,390.27 485.96,389.71 490.71,388.36 495.47,387.09 500.23,385.49 504.98,382.77 509.74,380.93 514.50,379.32 519.26,377.07 524.01,376.82 528.77,376.85 533.53,376.86 538.28,377.37 543.04,378.18 547.80,380.29 552.55,383.09 557.31,386.30 562.07,389.36 566.83,392.27 571.58,394.97 576.34,396.94 581.10,399.36 585.85,400.78 590.61,400.27 595.37,399.34 600.12,398.68 604.88,398.18 609.64,397.58 614.40,397.17 619.15,396.73 623.91,395.83 628.67,394.99 633.42,394.32 638.18,394.78 642.94,395.59 647.69,395.71 652.45,396.70 657.21,397.45 661.97,398.46 666.72,399.51 671.48,400.19 676.24,401.09 680.99,401.66 685.75,402.20 690.51,403.58 695.26,404.86 700.02,406.41 704.78,407.44 709.54,407.59 714.29,408.46 719.05,409.48 723.81,411.03 728.56,412.50 733.32,413.88 738.08,415.13 742.83,416.05 747.59,416.02 752.35,415.53 757.11,414.55 761.86,413.75 766.62,412.92 771.38,412.57" fill="none" stroke="#f4d080" stroke-width="0.9"/><polyline points="5.50,386.73 10.26,384.60 15.01,380.46 19.77,382.44 24.53,381.88 29.28,381.05 34.04,377.20 38.80,382.98 43.56,389.66 48.31,378.27 53.07,376.05 57.83,382.74 62.58,382.16 67.34,378.81 72.10,383.20 76.85,380.31 81.61,372.79 86.37,361.85 91.13,358.69 95.88,359.51 100.64,356.37 105.40,355.18 110.15,365.51 114.91,363.38 119.67,362.26 124.42,368.95 129.18,368.95 133.94,372.11 138.70,371.58 143.45,363.82 148.21,371.00 152.97,373.17 157.72,377.90 162.48,375.86 167.24,370.72 171.99,378.21 176.75,378.81 181.51,379.98 186.27,389.55 191.02,399.98 195.78,402.31 200.54,393.70 205.29,390.13 210.05,394.15 214.81,390.44 219.56,380.67 224.32,384.72 229.08,385.40 233.84,375.12 238.59,378.25 243.35,373.23 248.11,364.69 252.86,385.24 257.62,388.03 262.38,387.77 267.13,387.48 271.89,391.77 276.65,402.08 281.41,397.01 286.16,402.21 290.92,387.13 295.68,391.56 300.43,396.82 305.19,404.42 309.95,399.05 314.70,400.24 319.46,396.12 324.22,405.71 328.98,403.48 333.73,405.14 338.49,401.22 343.25,394.84 348.00,393.43 352.76,396.38 357.52,396.38 362.27,398.19 367.03,393.85 371.79,390.12 376.55,392.58 381.30,383.22 386.06,378.76 390.82,376.82 395.57,377.88 400.33,380.84 405.09,378.60 409.84,375.41 414.60,377.28 419.36,375.07 424.12,382.98 428.87,381.70 433.63,384.06 438.39,397.06 443.14,399.87 447.90,391.97 452.66,407.35 457.41,403.87 462.17,403.87 466.93,392.85 471.69,385.17 476.44,385.64 481.20,372.29 485.96,367.27 490.71,364.10 495.47,363.86 500.23,361.69 504.98,359.01 509.74,374.03 514.50,369.53 519.26,375.83 524.01,400.33 528.77,404.32 533.53,393.04 538.28,392.20 543.04,397.06 547.80,401.85 552.55,406.38 557.31,409.11 562.07,406.65 566.83,402.46 571.58,396.78 576.34,401.70 581.10,403.30 585.85,395.68 590.61,393.25 595.37,391.30 600.12,383.74 604.88,385.26 609.64,388.69 614.40,396.09 619.15,400.15 623.91,396.57 628.67,394.85 633.42,393.09 638.18,403.27 642.94,412.96 647.69,405.09 652.45,409.56 657.21,403.66 661.97,405.43 666.72,398.45 671.48,394.77 676.24,401.27 680.99,404.12 685.75,407.79 690.51,415.85 695.26,412.80 700.02,414.75 704.78,417.68 709.54,415.08 714.29,417.27 719.05,423.82 723.81,425.41 728.56,425.95 733.32,417.74 738.08,412.30 742.83,414.11 747.59,403.77 752.35,400.87 757.11,402.09 761.86,401.69 766.62,403.05 771.38,412.76" fill="none" stroke="#8577cc" stroke-width="0.8"/></g>
<text x="10.7" y="356" font-size="7" fill="#2a2e39" stroke="#2a2e39" stroke-width="0.22">RSI (14, close)</text>
<text x="60.2" y="356" font-size="7" fill="#7e6fc8" stroke="#7e6fc8" stroke-width="0.22">32.24</text>
<text x="81.6" y="356" font-size="7" fill="#ebca4a" stroke="#ebca4a" stroke-width="0.22">32.49</text>
<text x="977" y="351.10" font-size="6.8" fill="#2a2e39" stroke="#2a2e39" stroke-width="0.22">80.00</text>
<text x="977" y="378.10" font-size="6.8" fill="#2a2e39" stroke="#2a2e39" stroke-width="0.22">60.00</text>
<text x="977" y="432.10" font-size="6.8" fill="#2a2e39" stroke="#2a2e39" stroke-width="0.22">20.00</text>
<rect x="972.6" y="399.2" width="25.4" height="9.4" rx="1" fill="#f9d548"/>
<text x="976" y="406.3" font-size="6.8" fill="#222" stroke="#222" stroke-width="0.22">32.49</text>
<rect x="972.6" y="409" width="25.4" height="9.7" rx="1" fill="#7e57c2"/>
<text x="976" y="416.3" font-size="6.8" fill="#fff" stroke="#fff" stroke-width="0.22">32.24</text>
<text x="43.2" y="444.8" font-size="6.8" fill="#2a2e39" text-anchor="middle" stroke="#2a2e39" stroke-width="0.22">Jul</text>
<text x="190.5" y="444.8" font-size="6.8" fill="#2a2e39" text-anchor="middle" stroke="#2a2e39" stroke-width="0.22">Aug</text>
<text x="337.5" y="444.8" font-size="6.8" fill="#2a2e39" text-anchor="middle" stroke="#2a2e39" stroke-width="0.22">Sep</text>
<text x="481" y="444.8" font-size="6.8" fill="#2a2e39" text-anchor="middle" stroke="#2a2e39" stroke-width="0.22">Oct</text>
<text x="627.5" y="444.8" font-size="6.8" fill="#2a2e39" text-anchor="middle" stroke="#2a2e39" stroke-width="0.22">Nov</text>
<text x="771" y="444.8" font-size="6.8" fill="#2a2e39" text-anchor="middle" stroke="#2a2e39" stroke-width="0.22">Dec</text>
<text x="918.5" y="444.8" font-size="6.8" fill="#2a2e39" text-anchor="middle" font-weight="bold">2026</text>
<path d="M7.1 463.6 H13.7 V472.4 H10.4 V466.8 H7.1 Z" fill="#000"/>
<circle cx="17.2" cy="465.2" r="1.85" fill="#000"/>
<path d="M20.5 463.6 H24.2 L21.3 472.3 H17.2 Z" fill="#000"/>
<g fill="none" stroke="#131313" stroke-width="1.75" stroke-linejoin="miter"><path d="M29.2 464.2 H34.8"/><path d="M32.1 464.2 V472.2"/><path d="M36.5 466 V472.2"/><path d="M36.5 469.2 Q36.7 466.7 39.7 466.7"/><path d="M45.4 466 V472.2"/><path d="M53.4 463.3 V472.2"/><path d="M55.6 466 V472.2"/><path d="M59.6 466 V472.2"/><path d="M59.6 472.2 V468.9 A2.25 2.25 0 0 1 64.1 468.9 V472.2"/><path d="M70.5 466 V472.4 A2.5 2.3 0 0 1 65.6 473.4"/><path d="M71.4 463.2 L75.9 472.0 L80.4 463.2"/><path d="M81.8 466 V472.2"/><path d="M85.3 469.1 H90.5 A2.6 2.6 0 1 0 89.7 471.2"/><path d="M90.9 465.9 L93.2 471.9 L95.6 466.4 L98.0 471.9 L100.3 465.9"/><circle cx="42.65" cy="469.15" r="2.3"/><circle cx="50.45" cy="469.15" r="2.3"/><circle cx="68.0" cy="468.8" r="2.3"/></g>
<g fill="#131313"><circle cx="55.6" cy="464.2" r="1"/><circle cx="81.8" cy="464.2" r="1"/></g>
</svg>
</body></html>
